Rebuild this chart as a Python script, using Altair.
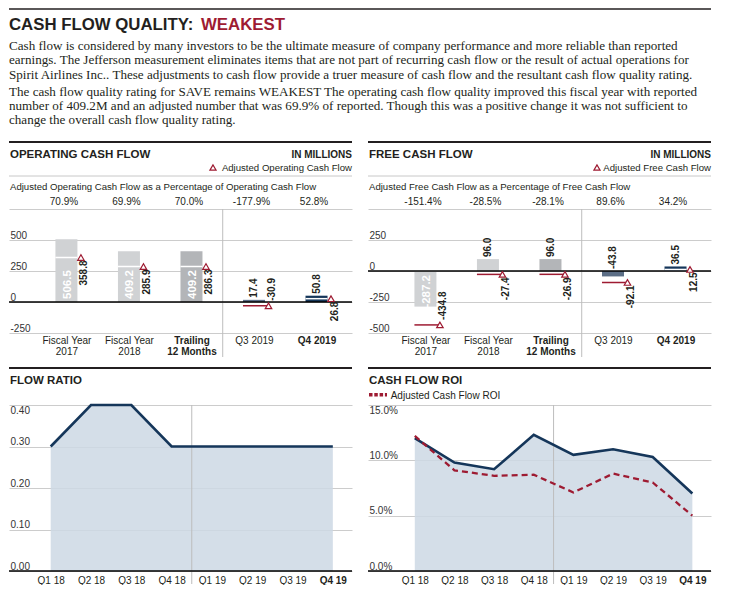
import json
import altair as alt
import pandas as pd

# ---------------- data ----------------
title_main = "CASH FLOW QUALITY:"
title_rating = "WEAKEST"
intro_para = [
    "Cash flow is considered by many investors to be the ultimate measure of company performance and more reliable than reported",
    "earnings. The Jefferson measurement eliminates items that are not part of recurring cash flow or the result of actual operations for",
    "Spirit Airlines Inc.. These adjustments to cash flow provide a truer measure of cash flow and the resultant cash flow quality rating.",
]
rating_para = [
    "The cash flow quality rating for SAVE remains WEAKEST  The operating cash flow quality improved this fiscal year with reported",
    "number of 409.2M and an adjusted number that was 69.9% of reported. Though this was a positive change it was not sufficient to",
    "change the overall cash flow quality rating.",
]

periods = ["Fiscal Year 2017", "Fiscal Year 2018", "Trailing 12 Months", "Q3 2019", "Q4 2019"]
period_labels = [["Fiscal Year", "2017"], ["Fiscal Year", "2018"], ["Trailing", "12 Months"], ["Q3 2019"], ["Q4 2019"]]
bold_periods = [2, 4]

ocf_reported = [506.5, 409.2, 409.2, 17.4, 50.8]
ocf_adjusted = [358.8, 285.9, 286.3, -30.9, 26.8]
ocf_pct = ["70.9%", "69.9%", "70.0%", "-177.9%", "52.8%"]
ocf_ticks = [-250, 0, 250, 500, 750]

fcf_reported = [-287.2, 96.0, 96.0, -43.8, 36.5]
fcf_adjusted = [-434.8, -27.4, -26.9, -92.1, 12.5]
fcf_pct = ["-151.4%", "-28.5%", "-28.1%", "89.6%", "34.2%"]
fcf_ticks = [-500, -250, 0, 250, 500]

quarters = ["Q1 18", "Q2 18", "Q3 18", "Q4 18", "Q1 19", "Q2 19", "Q3 19", "Q4 19"]
flow_ratio = [0.30, 0.40, 0.40, 0.30, 0.30, 0.30, 0.30, 0.30]
flow_ticks = [0.0, 0.1, 0.2, 0.3, 0.4]
roi = [12.0, 9.8, 9.2, 12.3, 10.5, 11.0, 10.3, 7.0]
roi_adjusted = [12.2, 9.1, 8.6, 8.7, 7.1, 8.8, 8.0, 5.0]
roi_ticks = [0, 5, 10, 15]

# ---------------- style ----------------
INK = "#231f20"
RED = "#9e1b32"
NAVY = "#15365a"
SLATE = "#5c6e86"
LIGHT = "#d0d2d4"
MID = "#b3b5b8"
GRID = "#cccccc"
AREA = "#cdd8e4"
BAR_COLORS = [LIGHT, LIGHT, MID, SLATE, NAVY]
SANS = "Liberation Sans, Arial, sans-serif"
SERIF = "Liberation Serif, Times New Roman, serif"

W = 343
H_BAR = 124
H_LINE = 166


def one():
    return alt.Data(values=[{"k": 1}])


def label(text, x, y, size, weight="normal", color=INK, align="left", font=SANS, line_height=None):
    kw = dict(text=text, align=align, baseline="alphabetic", font=font, fontSize=size,
              fontWeight=weight, color=color)
    if line_height:
        kw["lineHeight"] = line_height
    return alt.Chart(one()).mark_text(**kw).encode(x=alt.value(x), y=alt.value(y))


def hline(x1, x2, y, color, width, dash=None):
    kw = dict(color=color, strokeWidth=width)
    if dash:
        kw["strokeDash"] = dash
    return alt.Chart(one()).mark_rule(**kw).encode(x=alt.value(x1), x2=alt.value(x2), y=alt.value(y))


def bold_test(values):
    return " || ".join(f"datum.value == {v}" for v in values)


def bar_panel(name, legend_text, subtitle, reported, adjusted, pct, ticks, tri_x, extra=()):
    ydom = [ticks[0], ticks[-1]]
    ppu = H_BAR / (ydom[1] - ydom[0])
    idx = list(range(len(periods)))
    df = pd.DataFrame({
        "idx": idx,
        "period": periods,
        "rep": reported,
        "adj": adjusted,
        "rep_txt": [f"{v:.1f}" for v in reported],
        "adj_txt": [f"{v:.1f}" for v in adjusted],
        "rep_anchor": [max(v, 0) for v in reported],
        "inside": [abs(v) * ppu >= 30 for v in reported],
        "pos": [v >= 0 for v in reported],
        "adj_in": [min(0, r) <= a <= max(0, r) for r, a in zip(reported, adjusted)],
        "adj_up": [(a - ydom[0]) * ppu < 32 for a in adjusted],
    })
    xs = alt.Scale(domain=[-0.8385, 4.4876], nice=False, zero=False)
    ys = alt.Scale(domain=ydom, nice=False, zero=False)
    X = alt.X("idx:Q", scale=xs, axis=None)
    base = alt.Chart(df)

    bottom_axis = alt.Axis(
        orient="bottom", values=idx, labelExpr=f"{json.dumps(period_labels)}[datum.value]",
        domain=False, ticks=False, tickSize=0, grid=False, labelPadding=2, labelBaseline="top",
        labelLineHeight=11, labelFont=SANS, labelFontSize=10, labelColor=INK, labelFlush=False,
        labelOverlap=False, title=None,
        labelFontWeight={"condition": {"test": bold_test(bold_periods), "value": "bold"}, "value": "normal"},
    )
    left_axis = alt.Axis(
        orient="left", values=ticks, grid=True, gridColor=GRID, gridWidth=1, domain=False, ticks=False,
        tickSize=0, labelAlign="left", labelBaseline="bottom", labelPadding=-1,
        labelExpr=f"datum.value == {ticks[-1]} ? '' : '' + datum.value",
        labelFont=SANS, labelFontSize=10, labelColor="#333333", title=None,
    )
    top_axis = alt.Axis(
        orient="top", values=idx, labelExpr=f"{json.dumps(pct)}[datum.value]",
        domain=False, ticks=False, tickSize=0, grid=False, labelPadding=3, labelOffset=-3,
        labelFont=SANS, labelFontSize=10, labelColor=INK, labelFlush=False, labelOverlap=False, title=None,
    )

    bars = base.mark_bar(size=22).encode(
        x=alt.X("idx:Q", scale=xs, axis=bottom_axis),
        y=alt.Y("rep:Q", scale=ys, axis=left_axis),
        y2=alt.datum(0),
        color=alt.Color("period:N", scale=alt.Scale(domain=periods, range=BAR_COLORS), legend=None),
    )
    top = base.mark_point(opacity=0).encode(
        x=alt.X("idx:Q", scale=xs, axis=top_axis),
        y=alt.Y("rep:Q", scale=ys, axis=None),
    )
    sep = alt.Chart(one()).mark_rule(color="#bdbdbd", strokeWidth=1).encode(
        x=alt.XDatum(2.5, axis=None), y=alt.value(0), y2=alt.value(H_BAR + 24))
    zero = alt.Chart(one()).mark_rule(color="black", strokeWidth=1.3).encode(y=alt.YDatum(0, axis=None))
    Yadj = alt.Y("adj:Q", scale=ys, axis=None)
    tick_white = base.transform_filter("datum.adj_in").mark_tick(
        orient="horizontal", size=22, thickness=1.5, color="white", opacity=1
    ).encode(x=X, y=Yadj)
    tick_red = base.transform_filter("!datum.adj_in").mark_tick(
        orient="horizontal", size=25, thickness=1.5, xOffset=1.5, color=RED, opacity=1
    ).encode(x=X, y=Yadj)
    tri = base.mark_point(
        shape="triangle-up", size=42, fill="white", stroke=RED, strokeWidth=1.2,
        fillOpacity=1, strokeOpacity=1, opacity=1, xOffset=14.5,
    ).encode(x=X, y=Yadj)

    adj_style = dict(angle=270, baseline="alphabetic", xOffset=21, font=SANS, fontSize=10,
                     fontWeight="bold", color=INK)
    adj_down = base.transform_filter("!datum.adj_up").mark_text(align="right", dx=-3, **adj_style).encode(
        x=X, y=Yadj, text="adj_txt:N")
    adj_upl = base.transform_filter("datum.adj_up").mark_text(align="left", dx=5, **adj_style).encode(
        x=X, y=Yadj, text="adj_txt:N")

    in_style = dict(angle=270, baseline="alphabetic", xOffset=4.2, font=SANS, fontSize=11.5,
                    fontWeight="bold", color="white")
    rep_in_pos = base.transform_filter("datum.inside && datum.pos").mark_text(
        align="left", dx=3, **in_style).encode(x=X, y=alt.YDatum(0, axis=None), text="rep_txt:N")
    rep_in_neg = base.transform_filter("datum.inside && !datum.pos").mark_text(
        align="right", dx=-4, **in_style).encode(x=X, y=alt.YDatum(0, axis=None), text="rep_txt:N")
    rep_out = base.transform_filter("!datum.inside").mark_text(
        angle=270, baseline="alphabetic", align="left", dx=2, xOffset=3.5, font=SANS, fontSize=10,
        fontWeight="bold", color=INK,
    ).encode(x=X, y=alt.Y("rep_anchor:Q", scale=ys, axis=None), text="rep_txt:N")

    header = [
        hline(0, W, -67, INK, 2),
        label(name, 1, -51, 11.5, "bold"),
        label("IN MILLIONS", W, -51, 10, "bold", align="right"),
        alt.Chart(one()).mark_point(shape="triangle-up", size=38, fill="white", stroke=RED,
                                    strokeWidth=1.2, opacity=1).encode(x=alt.value(tri_x), y=alt.value(-41.5)),
        label(legend_text, W, -38.5, 9.6, align="right"),
        hline(0, W, -33, "#c8c8c8", 1),
        label(subtitle, 1, -19.5, 9.6),
    ]
    layers = [bars, top, sep, zero, tick_white, tick_red, tri, adj_down, adj_upl,
              rep_in_pos, rep_in_neg, rep_out] + header + list(extra)
    return (alt.layer(*layers).properties(width=W, height=H_BAR)
            .resolve_axis(x="independent", y="independent"))


def line_panel(name, values, ticks, ylabel_expr, xdom, adjusted=None, legend_text=None):
    idx = list(range(len(quarters)))
    data = {"idx": idx, "q": quarters, "v": values}
    if adjusted is not None:
        data["a"] = adjusted
    df = pd.DataFrame(data)
    xs = alt.Scale(domain=xdom, nice=False, zero=False)
    ys = alt.Scale(domain=[ticks[0], ticks[-1]], nice=False, zero=False)
    base = alt.Chart(df)
    x_axis = alt.Axis(
        orient="bottom", values=idx, labelExpr=f"{json.dumps(quarters)}[datum.value]",
        domain=False, ticks=False, tickSize=0, grid=False, labelPadding=4, labelBaseline="top",
        labelFont=SANS, labelFontSize=10, labelColor=INK, labelFlush=False, labelOverlap=False, title=None,
        labelFontWeight={"condition": {"test": f"datum.value == {idx[-1]}", "value": "bold"}, "value": "normal"},
    )
    y_axis = alt.Axis(
        orient="left", values=ticks, grid=True, gridColor=GRID, gridWidth=1, domain=False, ticks=False,
        tickSize=0, labelAlign="left", labelPadding=-1, labelExpr=ylabel_expr,
        labelBaseline={"condition": {"test": f"datum.value >= {ticks[-1]}", "value": "top"}, "value": "bottom"},
        labelFont=SANS, labelFontSize=10, labelColor="#333333", title=None,
    )
    X = alt.X("idx:Q", scale=xs, axis=None)
    area = base.mark_area(color=AREA, opacity=0.85).encode(
        x=alt.X("idx:Q", scale=xs, axis=x_axis),
        y=alt.Y("v:Q", scale=ys, axis=y_axis),
        y2=alt.datum(ticks[0]),
    )
    sep = alt.Chart(one()).mark_rule(color="#bdbdbd", strokeWidth=1).encode(
        x=alt.XDatum(3.5, axis=None), y=alt.value(0), y2=alt.value(H_LINE + 13))
    line = base.mark_line(color=NAVY, strokeWidth=2.6).encode(x=X, y=alt.Y("v:Q", scale=ys, axis=None))
    zero = alt.Chart(one()).mark_rule(color="black", strokeWidth=1.5).encode(
        y=alt.YDatum(ticks[0], axis=None))
    layers = [area, sep, line]
    if adjusted is not None:
        layers.append(base.mark_line(color=RED, strokeWidth=2.3, strokeDash=[6, 4]).encode(
            x=X, y=alt.Y("a:Q", scale=ys, axis=None)))
    layers += [zero, hline(0, W, -37, INK, 2), label(name, 1, -20.8, 11.5, "bold")]
    if legend_text:
        layers += [hline(1, 19, -10.3, RED, 3.5, dash=[3.5, 1.8]), label(legend_text, 22.7, -6.5, 10)]
    return (alt.layer(*layers).properties(width=W, height=H_LINE)
            .resolve_axis(x="independent", y="independent"))


page_header = [
    hline(0, 702, -200, INK, 1.5),
    label(title_main, 0, -179.3, 16.8, "bold"),
    label(title_rating, 192, -179.3, 16.8, "bold", color=RED),
    label(intro_para, 0, -159, 13.1, font=SERIF, line_height=14.3),
    label(rating_para, 0, -113.5, 13.1, font=SERIF, line_height=14.3),
]

ocf = bar_panel("OPERATING CASH FLOW", "Adjusted Operating Cash Flow",
                "Adjusted Operating Cash Flow as a Percentage of Operating Cash Flow",
                ocf_reported, ocf_adjusted, ocf_pct, ocf_ticks, 204, extra=page_header)
fcf = bar_panel("FREE CASH FLOW", "Adjusted Free Cash Flow",
                "Adjusted Free Cash Flow as a Percentage of Free Cash Flow",
                fcf_reported, fcf_adjusted, fcf_pct, fcf_ticks, 229)
flow = line_panel("FLOW RATIO", flow_ratio, flow_ticks, "format(datum.value, '.2f')", [-1.035, 7.476])
roi_chart = line_panel("CASH FLOW ROI", roi, roi_ticks, "format(datum.value, '.1f') + '%'", [-1.18, 7.47],
                       adjusted=roi_adjusted, legend_text="Adjusted Cash Flow ROI")

chart = (
    alt.concat(ocf, fcf, flow, roi_chart, columns=2, spacing={"row": 72, "column": 16}, bounds="flush")
    .properties(padding=0)
    .configure(font=SANS)
    .configure_view(strokeWidth=0)
)
chart.save("out.html", embed_options={"renderer": "svg", "actions": False})
